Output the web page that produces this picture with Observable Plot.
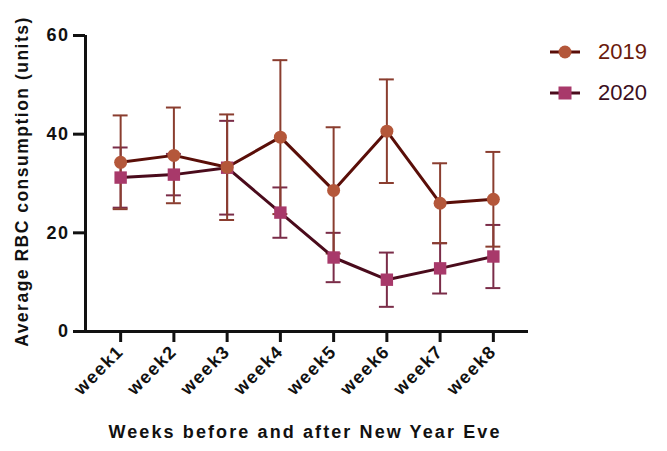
<!DOCTYPE html>
<html>
<head>
<meta charset="utf-8">
<script src="https://cdn.jsdelivr.net/npm/d3@7"></script>
<script src="https://cdn.jsdelivr.net/npm/@observablehq/plot@0.6"></script>
<style>
  html, body { margin: 0; padding: 0; background: #fff; }
  #wrap { position: relative; width: 667px; height: 451px; font-family: "Liberation Sans", Arial, sans-serif; }
  #chart svg text { letter-spacing: 1.5px; }
  #chart svg text.title { letter-spacing: 2.1px; }
  #legend { position: absolute; left: 548px; top: 37px; font-size: 22px; }
  #legend .row { display: flex; align-items: center; height: 30px; margin-bottom: 11px; }
  #legend svg { margin-right: 16px; }
</style>
</head>
<body>
<div id="wrap">
  <div id="chart"></div>
  <div id="legend"></div>
</div>
<script>
const weeks = ["week1","week2","week3","week4","week5","week6","week7","week8"];
const mean2019 = [34.3, 35.7, 33.3, 39.4, 28.6, 40.6, 26.0, 26.8];
const err2019  = [9.5, 9.7, 10.7, 15.6, 12.8, 10.5, 8.1, 9.6];
const mean2020 = [31.2, 31.8, 33.2, 24.1, 15.0, 10.5, 12.8, 15.2];
const err2020  = [6.1, 4.2, 9.5, 5.1, 5.0, 5.5, 5.1, 6.4];
const yTicks = [0, 20, 40, 60];

const series = [
  {name: "2019", mean: mean2019, err: err2019, fill: "#b4573a", line: "#5a0e08", bar: "#8a3d2f", symbol: "circle", text: "#6a1a0c"},
  {name: "2020", mean: mean2020, err: err2020, fill: "#a8396a", line: "#4a0b1c", bar: "#7a2c48", symbol: "square", text: "#3b0f22"}
];

function rows(s) {
  return weeks.map((w, i) => ({i: i + 1, week: w, mean: s.mean[i], lo: s.mean[i] - s.err[i], hi: s.mean[i] + s.err[i]}));
}

const capHalf = 0.14;
const marks = [];
for (const s of [series[1], series[0]]) {
  const d = rows(s);
  marks.push(Plot.ruleX(d, {x: "i", y1: "lo", y2: "hi", stroke: s.bar, strokeWidth: 2}));
  marks.push(Plot.ruleY(d, {y: "hi", x1: r => r.i - capHalf, x2: r => r.i + capHalf, stroke: s.bar, strokeWidth: 2}));
  marks.push(Plot.ruleY(d, {y: "lo", x1: r => r.i - capHalf, x2: r => r.i + capHalf, stroke: s.bar, strokeWidth: 2}));
}
for (const s of [series[1], series[0]]) {
  marks.push(Plot.line(rows(s), {x: "i", y: "mean", stroke: s.line, strokeWidth: 3}));
}
for (const s of [series[1], series[0]]) {
  marks.push(Plot.dot(rows(s), {x: "i", y: "mean", fill: s.fill, symbol: s.symbol, r: s.symbol === "circle" ? 6.5 : 7}));
}

const chart = Plot.plot({
  width: 667,
  height: 451,
  marginLeft: 85,
  marginRight: 139,
  marginTop: 35,
  marginBottom: 120,
  style: {fontFamily: "Liberation Sans, Arial, sans-serif", fontWeight: "bold", color: "#111", background: "#fff"},
  x: {domain: [1 - 0.66, 8 + 0.66]},
  y: {domain: [0, 60]},
  marks: [
    Plot.axisY({ticks: yTicks, tickSize: 12, strokeWidth: 3, fontSize: 18, tickPadding: 4, label: null}),
    Plot.axisX({ticks: weeks.map((w, i) => i + 1), tickFormat: i => weeks[i - 1], tickSize: 11, strokeWidth: 3, fontSize: 18, tickRotate: -45, tickPadding: 6, label: null}),
    Plot.ruleX([0.34], {stroke: "#111", strokeWidth: 3, y1: 0, y2: 60}),
    Plot.ruleY([0], {stroke: "#111", strokeWidth: 3}),
    ...marks,
    Plot.text(["Average RBC consumption (units)"], {frameAnchor: "left", textAnchor: "middle", dx: -63, dy: -2, rotate: -90, fontSize: 17.5, fontWeight: "bold", fill: "#111", text: d => d}),
    Plot.text(["Weeks before and after New Year Eve"], {frameAnchor: "bottom", textAnchor: "middle", dy: 106, dx: -2, fontSize: 18, fontWeight: "bold", fill: "#111", text: d => d, className: "title"})
  ]
});
document.getElementById("chart").appendChild(chart);
// mark x-title text with class for wider letter spacing
chart.querySelectorAll("text").forEach(t => { if (t.textContent === "Weeks before and after New Year Eve") t.classList.add("title"); });

const legend = document.getElementById("legend");
for (const s of series) {
  const row = document.createElement("div");
  row.className = "row";
  const shape = s.symbol === "circle"
    ? `<circle cx="17" cy="15" r="6.5" fill="${s.fill}"/>`
    : `<rect x="10.5" y="8.5" width="13" height="13" fill="${s.fill}"/>`;
  row.innerHTML = `<svg width="34" height="30"><line x1="2" x2="32" y1="15" y2="15" stroke="${s.line}" stroke-width="3"/>${shape}</svg><span style="color:${s.text}">${s.name}</span>`;
  legend.appendChild(row);
}
</script>
</body>
</html>
